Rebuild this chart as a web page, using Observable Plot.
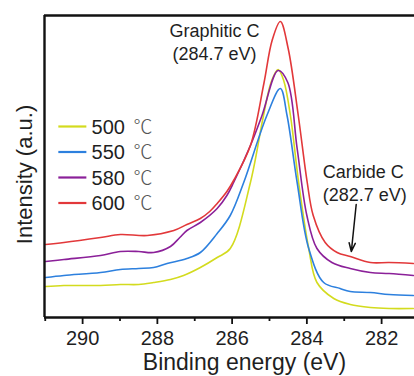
<!DOCTYPE html>
<html>
<head>
<meta charset="utf-8">
<script src="https://cdn.jsdelivr.net/npm/d3@7"></script>
<script src="https://cdn.jsdelivr.net/npm/@observablehq/plot@0.6"></script>
<style>
  html, body { margin: 0; padding: 0; background: #fff; }
  #chart svg { display: block; }
</style>
</head>
<body>
<div id="chart"></div>
<script>
// Binding energy (eV) and intensity (a.u.)
const series = ["500 ℃", "550 ℃", "580 ℃", "600 ℃"];
const colors = ["#d3db1e", "#2d80de", "#8b2099", "#e2383a"];

const energy600 = [290.99, 290.5, 289.52, 288.99, 288.27, 287.56, 287.21, 286.85, 286.6, 286.40, 286.14, 285.96, 285.51, 285.15, 284.93, 284.71, 284.50, 284.23, 283.99, 283.83, 283.51, 283.19, 282.84, 282.3, 281.8, 281.15];
const int600    = [73, 75, 80, 83, 82, 87, 93, 99, 106, 114, 126, 137, 172, 234, 277, 296, 269, 202, 135, 102, 75, 65, 61, 55, 55, 54];

const energy580 = [290.99, 290.5, 289.52, 288.99, 288.5, 288.10, 287.65, 287.4, 287.21, 286.85, 286.40, 286.14, 285.96, 285.51, 285.2, 284.77, 284.51, 284.26, 284.0, 283.73, 283.33, 282.84, 282.3, 281.8, 281.15];
const int580    = [56, 58, 62, 66, 66, 65, 71, 80, 87, 95, 109, 122, 135, 172, 202, 247, 235, 169, 102, 69, 55, 49, 45, 44, 42];

const energy550 = [290.99, 290.5, 289.52, 288.99, 288.5, 288.10, 287.74, 287.21, 286.85, 286.40, 286.05, 285.69, 285.07, 284.71, 284.53, 284.26, 283.95, 283.55, 283.11, 282.84, 282.3, 281.8, 281.15];
const int550    = [40, 42, 45, 48, 49, 50, 54, 59, 65, 84, 102, 135, 202, 229, 202, 135, 69, 35, 29, 26, 25, 23, 22];

const energy500 = [290.99, 290.5, 289.52, 288.99, 288.5, 288.10, 287.65, 287.30, 286.85, 286.40, 286.05, 285.51, 285.16, 284.95, 284.77, 284.62, 284.44, 284.22, 283.95, 283.73, 283.28, 282.84, 282.3, 281.8, 281.15];
const int500    = [31, 32, 32, 33, 33, 35, 38, 42, 50, 60, 69, 135, 202, 236, 248, 237, 202, 135, 69, 35, 19, 13, 10, 9, 9];

const xTicks = [290, 288, 286, 284, 282];
const xMinorTicks = [291, 289, 287, 285, 283, 281];

// Annotation anchors (data units)
const notes = [
  {x: 286.47, y: 286, text: "Graphitic C"},
  {x: 286.47, y: 263, text: "(284.7 eV)"},
  {x: 282.49, y: 145, text: "Carbide C"},
  {x: 282.45, y: 122, text: "(282.7 eV)"}
];
const arrowFrom = {x: 282.68, y: 113};
const arrowTo   = {x: 282.81, y: 66};

// Axis titles (data units for anchors)
const xTitle = {x: 285.67, text: "Binding energy (eV)"};
const yTitle = {y: 143, text: "Intensity (a.u.)"};

// Legend placement (data units)
const legendX1 = 290.65, legendX2 = 289.90, legendTextX = 289.76;
const legendY = [191, 165.5, 140, 114.5];

const xDomain = [291.02, 281.12];
const yDomain = [0, 302];

const allE = [energy500, energy550, energy580, energy600];
const allI = [int500, int550, int580, int600];
const data = [];
series.forEach((s, k) => {
  allE[k].forEach((e, i) => data.push({series: s, energy: e, intensity: allI[k][i]}));
});
const legend = series.map((s, k) => ({series: s, y: legendY[k], num: s.split(" ")[0]}));

const font = "Liberation Sans, Arial, Helvetica, sans-serif";
const ink = "#1f1f1f";

const plot = Plot.plot({
  width: 414,
  height: 376,
  marginLeft: 44,
  marginTop: 15,
  marginBottom: 59,
  marginRight: 0,
  style: {fontFamily: font, fontSize: "20px", background: "#fff", overflow: "visible"},
  x: {type: "linear", domain: xDomain, label: null},
  y: {type: "linear", domain: yDomain, axis: null},
  color: {domain: series, range: colors},
  marks: [
    Plot.line(data, {x: "energy", y: "intensity", z: "series", stroke: "series", strokeWidth: 1.6, curve: "catmull-rom"}),
    // frame
    Plot.ruleY([yDomain[0]], {stroke: "#111", strokeWidth: 2.4}),
    Plot.ruleY([yDomain[1]], {stroke: "#111", strokeWidth: 2.4}),
    Plot.ruleX([xDomain[0]], {stroke: "#111", strokeWidth: 2.4}),
    // ticks
    Plot.axisX({ticks: xTicks, tickSize: 7, tickFormat: () => "", stroke: "#111", strokeWidth: 1.8, label: null}),
    Plot.axisX({ticks: xMinorTicks, tickSize: 4, tickFormat: () => "", stroke: "#111", strokeWidth: 1.8, label: null}),
    // tick labels
    Plot.text(xTicks, {x: d => d, frameAnchor: "bottom", lineAnchor: "middle", textAnchor: "middle", dy: 21, fontSize: 20, fill: ink}),
    Plot.text([xTitle], {x: "x", text: "text", frameAnchor: "bottom", lineAnchor: "middle", textAnchor: "middle", dy: 45, fontSize: 23, fill: ink}),
    // y label
    Plot.text([yTitle], {x: () => xDomain[0], y: "y", text: "text", lineAnchor: "middle", textAnchor: "middle", dx: -20, rotate: -90, fontSize: 22, fill: ink}),
    // annotations
    Plot.text(notes, {x: "x", y: "y", text: "text", fontSize: 18, fill: ink}),
    Plot.arrow([0], {x1: () => arrowFrom.x, y1: () => arrowFrom.y, x2: () => arrowTo.x, y2: () => arrowTo.y, stroke: "#111", strokeWidth: 1.5, headLength: 9, headAngle: 40}),
    // legend
    Plot.link(legend, {x1: () => legendX1, x2: () => legendX2, y1: "y", y2: "y", stroke: "series", strokeWidth: 2.2}),
    Plot.text(legend, {x: () => legendTextX, y: "y", text: "num", textAnchor: "start", fontSize: 20, fill: ink, dy: 1}),
    Plot.text(legend, {x: () => legendTextX, y: "y", text: () => "℃", textAnchor: "start", fontSize: 19, dx: 42, dy: 1, fill: "#555", fontFamily: "Noto Sans CJK SC, DejaVu Sans, sans-serif", fontWeight: 300})
  ]
});

document.getElementById("chart").appendChild(plot);
</script>
</body>
</html>
